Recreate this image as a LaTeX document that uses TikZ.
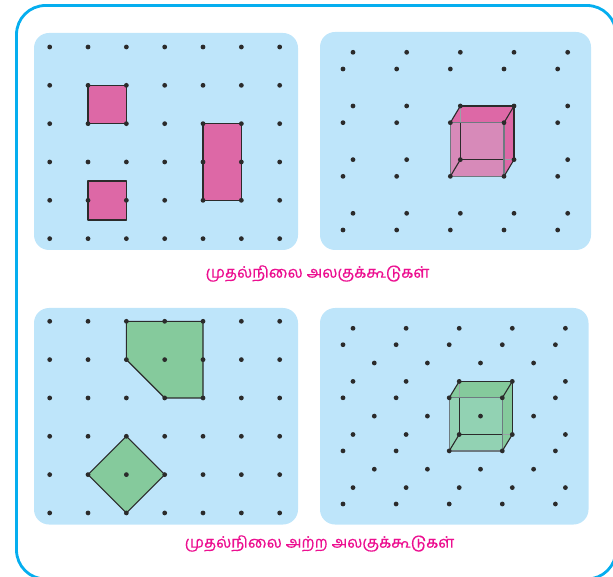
\documentclass[tikz,border=0pt]{standalone}
\usepackage{fontspec}
\newfontfamily\tamilfont[Script=Tamil,FakeBold=0.5]{Hind Madurai}
\usetikzlibrary{backgrounds}
\definecolor{FrameCyan}{HTML}{05AEEF}
\definecolor{PanelBlue}{HTML}{BEE5FA}
\definecolor{ShapePink}{HTML}{DD68A6}
\definecolor{FacePink}{HTML}{D78AB9}
\definecolor{ShapeGreen}{HTML}{85CA9C}
\definecolor{FaceGreen}{HTML}{92D2B3}
\definecolor{EdgeDark}{HTML}{2B2B2B}
\definecolor{EdgeGrey}{HTML}{6E7A80}
\definecolor{LabelPink}{HTML}{EC0F90}

\begin{document}
\begin{tikzpicture}[x=1pt, y=-1pt, every node/.style={font=\tamilfont\fontsize{15.8}{18}\selectfont, text=LabelPink}]
\tikzstyle{dotmark}=[circle, fill=EdgeDark, inner sep=0pt, minimum size=4.8pt]
\tikzstyle{panel}=[fill=PanelBlue, rounded corners=15pt]
\tikzstyle{outline}=[draw=EdgeDark, line width=1.1pt, line join=round]
\tikzstyle{frontedge}=[draw=EdgeGrey, line width=1.2pt]
\tikzstyle{faint}=[draw=EdgeGrey!70, line width=0.9pt]
\useasboundingbox (0,0) rectangle (613,577);
\clip (0,0) rectangle (613,577);
\draw[FrameCyan, line width=2.8pt, rounded corners=29pt] (16.5,5.5) rectangle (616,579);
\begin{scope}[on background layer]
\fill[panel] (34,33) rectangle (298,250);
\fill[panel] (320,32) rectangle (591,250);
\fill[panel] (34,308) rectangle (298,524.5);
\fill[panel] (320,308) rectangle (588.5,524.5);
\end{scope}
\foreach \i in {0,...,6} \foreach \j in {0,...,5} {
  \node[dotmark] (sq\i\j) at (49.7+38.33*\i, 47+38.33*\j) {};
  \node[dotmark] (ob\i\j) at (49.7+38.33*\i, 321.3+38.33*\j) {};
}
\foreach \i in {0,...,4} \foreach \j in {0,...,3} {
  \node[dotmark] (pb\i\j) at (353+53.67*\i, 52.3+53.67*\j) {};
  \node[dotmark] (pf\i\j) at (343+53.67*\i, 69+53.67*\j) {};
  \node[dotmark] (qb\i\j) at (353+53.1*\i, 328.3+53.1*\j) {};
  \node[dotmark] (qf\i\j) at (343+53.1*\i, 344.7+53.1*\j) {};
}
\foreach \i in {0,...,3} \foreach \j in {0,...,2} {
  \node[dotmark] (qc\i\j) at (374.3+53.1*\i, 363+53.1*\j) {};
}
\coordinate (low1) at (88,181);
\coordinate (low2) at (126.3,220);
\coordinate (pcut) at (pb21.center |- pf21.center);
\coordinate (pend) at (pf31.center |- pb32.center);
\coordinate (qcut) at (qb21.center |- qf21.center);
\coordinate (qend) at (qf31.center |- qb32.center);
\begin{scope}[on background layer]
\draw[outline, fill=ShapePink] (sq11.center) rectangle (sq22.center);
\draw[outline, fill=ShapePink] (low1) rectangle (low2);
\draw[outline, fill=ShapePink] (sq42.center) rectangle (sq54.center);
\draw[outline, fill=ShapeGreen] (ob20.center)--(ob40.center)--(ob42.center)--(ob32.center)--(ob21.center)--cycle;
\draw[outline, fill=ShapeGreen] (ob23.center)--(ob34.center)--(ob25.center)--(ob14.center)--cycle;
\fill[ShapePink] (pb21.center)--(pb31.center)--(pb32.center)--(pf32.center)--(pf22.center)--(pf21.center)--cycle;
\fill[FacePink] (pf21.center) rectangle (pf32.center);
\draw[outline] (pcut)--(pb22.center)--(pend);
\draw[outline] (pb21.center)--(pb31.center)--(pb32.center);
\draw[outline] (pb21.center)--(pf21.center);
\draw[outline] (pb31.center)--(pf31.center);
\draw[outline] (pb22.center)--(pf22.center);
\draw[outline] (pb32.center)--(pf32.center);
\draw[faint] (pb21.center)--(pcut);
\draw[faint] (pend)--(pb32.center);
\draw[frontedge] (pf21.center) rectangle (pf32.center);
\fill[ShapeGreen] (qb21.center)--(qb31.center)--(qb32.center)--(qf32.center)--(qf22.center)--(qf21.center)--cycle;
\fill[FaceGreen] (qf21.center) rectangle (qf32.center);
\draw[outline] (qcut)--(qb22.center)--(qend);
\draw[outline] (qb21.center)--(qb31.center)--(qb32.center);
\draw[outline] (qb21.center)--(qf21.center);
\draw[outline] (qb31.center)--(qf31.center);
\draw[outline] (qb22.center)--(qf22.center);
\draw[outline] (qb32.center)--(qf32.center);
\draw[faint] (qb21.center)--(qcut);
\draw[faint] (qend)--(qb32.center);
\draw[frontedge] (qf21.center) rectangle (qf32.center);
\end{scope}
\node (regular) at (317.5,273.5) {முதல்நிலை அலகுக்கூடுகள்};
\node (irregular) at (319.5,543.5) {முதல்நிலை அற்ற அலகுக்கூடுகள்};
\end{tikzpicture}
\end{document}
